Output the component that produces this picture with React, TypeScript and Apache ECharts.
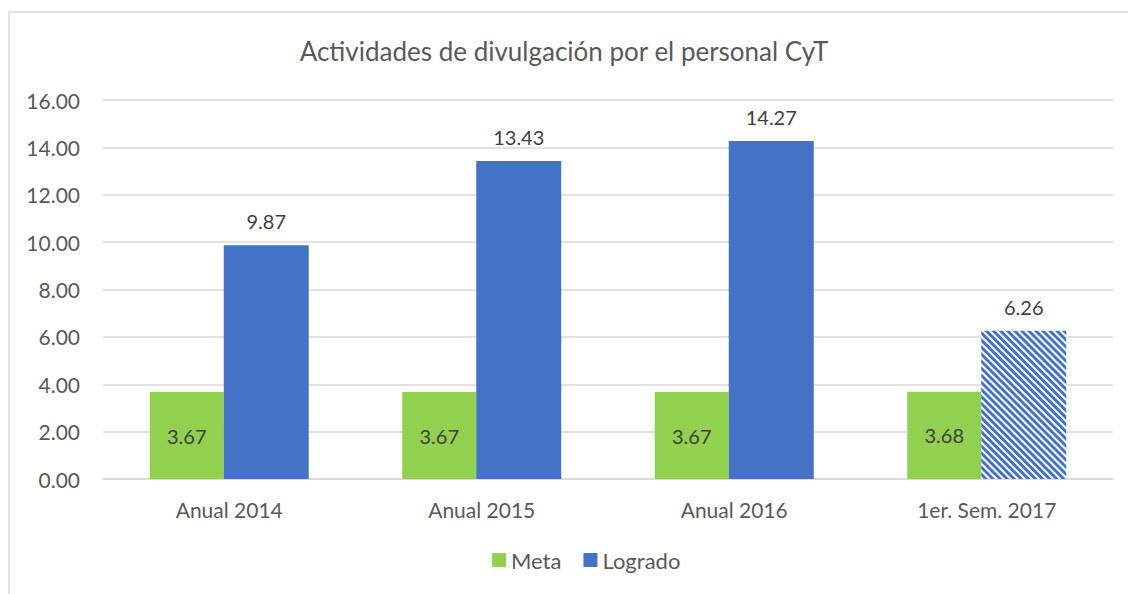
import React, { useEffect, useRef } from "react";
import * as echarts from "echarts";

const categories = ["Anual 2014", "Anual 2015", "Anual 2016", "1er. Sem. 2017"];
const metaValues = [3.67, 3.67, 3.67, 3.68];
const logradoValues = [9.87, 13.43, 14.27, 6.26];
const hatchedIndex = 3;
const titleText = "Actividades de divulgación por el personal CyT";

export default function App() {
  const ref = useRef<HTMLDivElement>(null);
  useEffect(() => {
    const chart = echarts.init(ref.current!, undefined, { renderer: "svg" });
    const font = "Lato, 'Noto Sans', sans-serif";
    chart.setOption({
      animation: false,
      textStyle: { fontFamily: font },
      title: {
        text: titleText,
        left: "center",
        top: 33,
        textStyle: { fontSize: 26, fontWeight: "normal", color: "#595959", fontFamily: font },
      },
      graphic: [
        {
          type: "rect",
          shape: { x: 9, y: 12, width: 1300, height: 800 },
          style: { fill: "none", stroke: "#d9d9d9", lineWidth: 1.5 },
          silent: true,
          z: -1,
        },
      ],
      legend: {
        bottom: 18,
        left: 487,
        itemWidth: 14,
        itemHeight: 14,
        itemGap: 22,
        icon: "rect",
        textStyle: { fontSize: 22, color: "#595959", fontFamily: font },
        data: ["Meta", "Logrado"],
      },
      grid: { left: 103, right: 15, top: 100, bottom: 115 },
      xAxis: {
        type: "category",
        data: categories,
        axisLine: { lineStyle: { color: "#d9d9d9", width: 1.5 } },
        axisTick: { show: false },
        axisLabel: { fontSize: 21, color: "#595959", margin: 20, fontFamily: font },
      },
      yAxis: {
        type: "value",
        min: 0,
        max: 16,
        interval: 2,
        axisLine: { show: false },
        axisTick: { show: false },
        splitLine: { lineStyle: { color: "#d9d9d9", width: 1.5 } },
        axisLabel: {
          fontSize: 21,
          color: "#595959",
          margin: 23,
          fontFamily: font,
          formatter: (v: number) => v.toFixed(2),
        },
      },
      series: [
        {
          name: "Meta",
          type: "bar",
          data: metaValues,
          barWidth: 74,
          barGap: 0,
          itemStyle: { color: "#92d050" },
          label: {
            show: true,
            position: "inside",
            fontSize: 20,
            color: "#404040",
            fontFamily: font,
            formatter: (p: any) => p.value.toFixed(2),
          },
        },
        {
          name: "Logrado",
          type: "bar",
          data: logradoValues.map((v, i) =>
            i === hatchedIndex
              ? {
                  value: v,
                  itemStyle: {
                    color: "#ffffff",
                    decal: {
                      symbol: "rect",
                      symbolSize: 1,
                      color: "#4472c4",
                      dashArrayX: [[1, 0]],
                      dashArrayY: [3, 2],
                      rotation: Math.PI / 4,
                    },
                  },
                }
              : v
          ),
          barWidth: 85,
          barGap: 0,
          itemStyle: { color: "#4472c4" },
          label: {
            show: true,
            position: "top",
            distance: 14,
            fontSize: 20,
            color: "#404040",
            fontFamily: font,
            formatter: (p: any) => p.value.toFixed(2),
          },
        },
      ],
    });
    return () => chart.dispose();
  }, []);
  return (
    <div
      ref={ref}
      style={{ position: "fixed", left: 0, top: 0, width: 1128, height: 594, background: "#fff" }}
    />
  );
}
